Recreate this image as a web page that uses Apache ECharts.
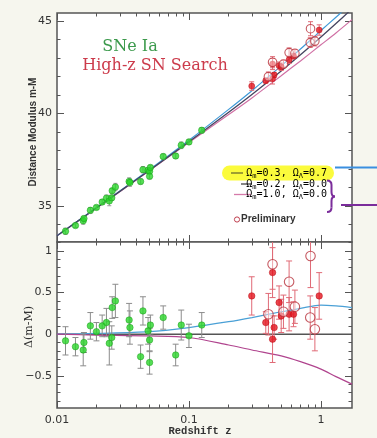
<!DOCTYPE html>
<html>
<head>
<meta charset="utf-8">
<script src="https://cdn.jsdelivr.net/npm/echarts@6/dist/echarts.min.js"></script>
<style>
  html, body { margin: 0; padding: 0; background: #f6f6ee; }
  #chart { width: 377px; height: 438px; }
</style>
</head>
<body>
<div id="chart"></div>
<script>
// model curves
const modelZ = [0.01, 0.02, 0.05, 0.1, 0.2, 0.3, 0.5, 0.7, 1.0, 1.3, 1.72];
const muOpen = [33.39, 34.90, 36.92, 38.47, 40.07, 41.03, 42.30, 43.17, 44.13, 44.86, 45.66];   // Ωm=0.2, ΩΛ=0.0
const muLambda = [33.39, 34.91, 36.95, 38.55, 40.22, 41.23, 42.57, 43.48, 44.48, 45.20, 45.98]; // Ωm=0.3, ΩΛ=0.7
const muEdS = [33.39, 34.89, 36.90, 38.43, 39.94, 40.84, 42.04, 42.84, 43.71, 44.35, 45.07];    // Ωm=1.0, ΩΛ=0.0
const resOpen = [0, 0, 0, 0, 0, 0, 0, 0, 0, 0, 0];
const resLambda = [0, 0.01, 0.03, 0.08, 0.15, 0.20, 0.27, 0.31, 0.35, 0.34, 0.32];
const resEdS = [0, -0.01, -0.02, -0.04, -0.13, -0.19, -0.26, -0.33, -0.42, -0.51, -0.60];

// low-z SNe Ia (green)
const greenZ = [0.0116, 0.0138, 0.0158, 0.016, 0.0179, 0.0199, 0.022, 0.0237, 0.0249, 0.026, 0.0262, 0.0277, 0.0352, 0.0357, 0.043, 0.0448, 0.049, 0.0503, 0.0503, 0.051, 0.0638, 0.0793, 0.0874, 0.1, 0.125];
const greenMu = [33.63, 33.94, 34.20, 34.32, 34.76, 34.92, 35.21, 35.42, 35.27, 35.44, 35.82, 36.02, 36.32, 36.26, 36.32, 36.96, 36.92, 36.87, 36.60, 37.08, 37.67, 37.70, 38.28, 38.46, 39.09];
const greenRes = [-0.08, -0.15, -0.19, -0.10, 0.10, 0.03, 0.10, 0.14, -0.11, -0.04, 0.32, 0.40, 0.17, 0.08, -0.27, 0.28, 0.04, -0.07, -0.34, 0.11, 0.20, -0.25, 0.11, -0.02, 0.11];
const greenErr = [0.17, 0.11, 0.19, 0.12, 0.16, 0.11, 0.13, 0.17, 0.26, 0.14, 0.13, 0.20, 0.20, 0.20, 0.14, 0.17, 0.16, 0.14, 0.14, 0.12, 0.14, 0.13, 0.18, 0.14, 0.15];

// High-z SN Search (red, filled)
const redZ = [0.299, 0.382, 0.43, 0.43, 0.442, 0.482, 0.50, 0.574, 0.62, 0.97];
const redMu = [41.48, 41.77, 42.67, 41.87, 42.08, 42.58, 42.52, 42.90, 43.10, 44.51];
const redRes = [0.46, 0.14, 0.74, -0.06, 0.08, 0.38, 0.22, 0.24, 0.24, 0.46];
const redErr = [0.23, 0.13, 0.30, 0.28, 0.14, 0.20, 0.20, 0.20, 0.15, 0.28];

// preliminary (red, open)
const openZ = [0.40, 0.43, 0.52, 0.574, 0.635, 0.83, 0.834, 0.90];
const openMu = [41.99, 42.77, 42.67, 43.29, 43.25, 43.83, 44.58, 43.91];
const openRes = [0.24, 0.84, 0.27, 0.63, 0.33, 0.20, 0.94, 0.06];
const openErr = [0.25, 0.30, 0.20, 0.25, 0.20, 0.26, 0.38, 0.26];

// ticks
const xMajor = [0.01, 0.1, 1];
const xMinor = [0.02, 0.03, 0.04, 0.05, 0.06, 0.07, 0.08, 0.09, 0.2, 0.3, 0.4, 0.5, 0.6, 0.7, 0.8, 0.9];
const muMajor = [35, 40, 45];
const muMinor = [34, 36, 37, 38, 39, 41, 42, 43, 44];
const resMajor = [-0.5, 0, 0.5, 1];
const resMinor = [-0.8, -0.7, -0.6, -0.4, -0.3, -0.2, -0.1, 0.1, 0.2, 0.3, 0.4, 0.6, 0.7, 0.8, 0.9, 1.1];

const zMin = 0.01, zMax = 1.72;
const muMin = 33.05, muMax = 45.43;
const resMin = -0.887, resMax = 1.108;

const chart = echarts.init(document.getElementById('chart'));

const tickLine = { color: '#555', width: 1 };
const labelFont = { color: '#333', fontSize: 11, fontFamily: 'DejaVu Sans' };

function xAx(grid, pos, ticks, len, labels) {
	return {
		type: 'log', logBase: 10, gridIndex: grid, position: pos, min: zMin, max: zMax,
		axisLine: { show: false, onZero: false },
		splitLine: { show: false },
		axisTick: { show: true, inside: true, length: len, customValues: ticks, lineStyle: tickLine },
		axisLabel: labels ? Object.assign({
			show: true, margin: 7, customValues: xMajor,
			formatter: (v) => String(+(+v).toPrecision(2))
		}, labelFont) : { show: false }
	};
}

function yAx(grid, pos, min, max, ticks, len, labels, fmt) {
	return {
		type: 'value', gridIndex: grid, position: pos, min: min, max: max,
		axisLine: { show: false, onZero: false },
		splitLine: { show: false },
		axisTick: { show: true, inside: true, length: len, customValues: ticks, lineStyle: tickLine },
		axisLabel: labels ? Object.assign({
			show: true, margin: 5, customValues: labels, formatter: fmt
		}, labelFont) : { show: false }
	};
}

const resFmt = (v) => (v < 0 ? '\u2212' + Math.abs(v) : String(v));

function errBars(color, cap) {
	return function (params, api) {
		const x = api.value(0);
		const lo = api.coord([x, api.value(1)]);
		const hi = api.coord([x, api.value(2)]);
		const st = { stroke: color, lineWidth: 1 };
		return {
			type: 'group',
			children: [
				{ type: 'line', shape: { x1: lo[0], y1: lo[1], x2: hi[0], y2: hi[1] }, style: st },
				{ type: 'line', shape: { x1: lo[0] - cap, y1: lo[1], x2: lo[0] + cap, y2: lo[1] }, style: st },
				{ type: 'line', shape: { x1: hi[0] - cap, y1: hi[1], x2: hi[0] + cap, y2: hi[1] }, style: st }
			]
		};
	};
}

const pairs = (xs, ys) => xs.map((x, i) => [x, ys[i]]);
const bars = (xs, ys, es) => xs.map((x, i) => [x, ys[i] - es[i], ys[i] + es[i]]);

function curve(xi, yi, xs, ys, color, width) {
	return {
		type: 'line', xAxisIndex: xi, yAxisIndex: yi, data: pairs(xs, ys),
		showSymbol: false, smooth: 0.3, z: 2, silent: true,
		lineStyle: { color: color, width: width }
	};
}

function errSeries(xi, yi, xs, ys, es, color, cap) {
	return {
		type: 'custom', xAxisIndex: xi, yAxisIndex: yi, clip: true, z: 3, silent: true,
		renderItem: errBars(color, cap), encode: { x: 0, y: [1, 2] },
		data: bars(xs, ys, es)
	};
}

function dots(xi, yi, xs, ys, style, size) {
	return {
		type: 'scatter', xAxisIndex: xi, yAxisIndex: yi, data: pairs(xs, ys),
		symbol: 'circle', symbolSize: size, z: 4, silent: true, itemStyle: style
	};
}

const greenStyle = { color: '#2bd62b', borderColor: '#179a17', borderWidth: 0.6 };
const redStyle = { color: '#e3151f', borderColor: '#b80d16', borderWidth: 0.6 };
const openStyle = { color: 'rgba(255,255,255,0.55)', borderColor: '#b8323c', borderWidth: 1.1 };

function legendText(a, b) {
	return '{n|\u03a9}{s|m}{n|=' + a + ', \u03a9}{s|\u039b}{n|=' + b + '}';
}
function legendRich(color) {
	return {
		n: { fontSize: 10, fontFamily: 'DejaVu Sans Mono', color: color },
		s: { fontSize: 7, fontFamily: 'DejaVu Sans Mono', color: color, padding: [6, 0, 0, 0] }
	};
}

const brace = '#7b2d9b';
function braceCurve(x1, y1, cx, cy, x2, y2) {
	return { type: 'bezierCurve', z: 101, shape: { x1: x1, y1: y1, cpx1: cx, cpy1: cy, x2: x2, y2: y2 }, style: { fill: null, stroke: brace, lineWidth: 2 } };
}
function braceLine(x1, y1, x2, y2) {
	return { type: 'line', z: 101, shape: { x1: x1, y1: y1, x2: x2, y2: y2 }, style: { stroke: brace, lineWidth: 2 } };
}

chart.setOption({
	backgroundColor: '#f6f6ee',
	animation: false,
	grid: [
		{ left: 57, right: 25, top: 13, height: 229, show: true, backgroundColor: '#fff', borderColor: '#555', borderWidth: 1.5 },
		{ left: 57, right: 25, top: 242, height: 166, show: true, backgroundColor: '#fff', borderColor: '#555', borderWidth: 1.5 }
	],
	xAxis: [
		xAx(0, 'bottom', xMajor, 7, false),
		xAx(0, 'bottom', xMinor, 3.5, false),
		xAx(0, 'top', xMajor, 7, false),
		xAx(0, 'top', xMinor, 3.5, false),
		xAx(1, 'bottom', xMajor, 7, true),
		xAx(1, 'bottom', xMinor, 3.5, false),
		xAx(1, 'top', xMajor, 7, false),
		xAx(1, 'top', xMinor, 3.5, false)
	],
	yAxis: [
		yAx(0, 'left', muMin, muMax, muMajor, 7, muMajor, (v) => String(v)),
		yAx(0, 'left', muMin, muMax, muMinor, 3.5),
		yAx(0, 'right', muMin, muMax, muMajor, 7),
		yAx(0, 'right', muMin, muMax, muMinor, 3.5),
		yAx(1, 'left', resMin, resMax, resMajor, 7, resMajor, resFmt),
		yAx(1, 'left', resMin, resMax, resMinor, 3.5),
		yAx(1, 'right', resMin, resMax, resMajor, 7),
		yAx(1, 'right', resMin, resMax, resMinor, 3.5)
	],
	series: [
		// Hubble diagram
		curve(0, 0, modelZ, muEdS, '#d070a4', 1.2),
		curve(0, 0, modelZ, muLambda, '#3f9ad8', 1.2),
		curve(0, 0, modelZ, muOpen, '#454560', 1.3),
		errSeries(0, 0, greenZ, greenMu, greenErr, '#9a9a9a', 2),
		errSeries(0, 0, redZ, redMu, redErr, '#e06a76', 2.5),
		errSeries(0, 0, openZ, openMu, openErr, '#e06a76', 2.5),
		dots(0, 0, greenZ, greenMu, greenStyle, 6.5),
		dots(0, 0, redZ, redMu, redStyle, 6),
		dots(0, 0, openZ, openMu, openStyle, 8.5),
		// residuals
		curve(4, 4, modelZ, resOpen, '#555', 1.6),
		curve(4, 4, modelZ, resLambda, '#4aa0d6', 1.2),
		curve(4, 4, modelZ, resEdS, '#b0448e', 1.2),
		errSeries(4, 4, greenZ, greenRes, greenErr, '#8c8c8c', 3),
		errSeries(4, 4, redZ, redRes, redErr, '#e06a76', 3),
		errSeries(4, 4, openZ, openRes, openErr, '#e06a76', 3),
		dots(4, 4, greenZ, greenRes, greenStyle, 6.5),
		dots(4, 4, redZ, redRes, redStyle, 6.5),
		dots(4, 4, openZ, openRes, openStyle, 9.5)
	],
	graphic: [
		{ type: 'text', z: 100, x: 130, y: 47, style: { text: 'SNe Ia', fill: '#3c9a4c', font: '16px "DejaVu Serif"', textAlign: 'center', textVerticalAlign: 'middle' } },
		{ type: 'text', z: 100, x: 155, y: 66, style: { text: 'High-z SN Search', fill: '#cc3b4b', font: '16px "DejaVu Serif"', textAlign: 'center', textVerticalAlign: 'middle' } },
		{ type: 'text', z: 100, x: 33, y: 132, rotation: Math.PI / 2, style: { text: 'Distance Modulus m-M', fill: '#333', font: 'bold 10px "Liberation Sans"', textAlign: 'center', textVerticalAlign: 'middle' } },
		{ type: 'text', z: 100, x: 29, y: 327, rotation: Math.PI / 2, style: { text: '\u0394(m-M)', fill: '#333', font: '11px "DejaVu Serif"', textAlign: 'center', textVerticalAlign: 'middle' } },
		{ type: 'text', z: 100, x: 200, y: 431, style: { text: 'Redshift z', fill: '#333', font: 'bold 10.5px "Liberation Mono"', textAlign: 'center', textVerticalAlign: 'middle' } },
		// legend
		{ type: 'rect', z: 100, shape: { x: 222, y: 165.5, width: 112, height: 15, r: 7.5 }, style: { fill: '#fbfb3c' } },
		{ type: 'line', z: 101, shape: { x1: 231, y1: 173, x2: 243, y2: 173 }, style: { stroke: '#6d6d2c', lineWidth: 1.3 } },
		{ type: 'text', z: 101, x: 327, y: 173, style: { text: legendText('0.3', '0.7'), rich: legendRich('#6a5d82'), textAlign: 'right', textVerticalAlign: 'middle' } },
		{ type: 'line', z: 101, shape: { x1: 241, y1: 184, x2: 252, y2: 184 }, style: { stroke: '#444', lineWidth: 1.3 } },
		{ type: 'text', z: 101, x: 327, y: 184, style: { text: legendText('0.2', '0.0'), rich: legendRich('#333'), textAlign: 'right', textVerticalAlign: 'middle' } },
		{ type: 'line', z: 101, shape: { x1: 234, y1: 194.5, x2: 251, y2: 194.5 }, style: { stroke: '#d57aaa', lineWidth: 1.3 } },
		{ type: 'text', z: 101, x: 327, y: 194.5, style: { text: legendText('1.0', '0.0'), rich: legendRich('#c0649a'), textAlign: 'right', textVerticalAlign: 'middle' } },
		{ type: 'circle', z: 101, shape: { cx: 237, cy: 219.5, r: 2.6 }, style: { fill: null, stroke: '#c04050', lineWidth: 1 } },
		{ type: 'text', z: 101, x: 241, y: 219.5, style: { text: 'Preliminary', fill: '#333', font: 'bold 10px "Liberation Sans"', textAlign: 'left', textVerticalAlign: 'middle' } },
		braceCurve(327, 180.5, 331.5, 180.5, 331.5, 185),
		braceLine(331.5, 185, 331.5, 192),
		braceCurve(331.5, 192, 331.5, 196.5, 335, 196.5),
		braceCurve(335, 196.5, 331.5, 196.5, 331.5, 201),
		braceLine(331.5, 201, 331.5, 207.5),
		braceCurve(331.5, 207.5, 331.5, 212, 327, 212),
		{ type: 'line', z: 101, shape: { x1: 335, y1: 167.5, x2: 377, y2: 167.5 }, style: { stroke: '#3a8fe0', lineWidth: 2 } },
		{ type: 'line', z: 101, shape: { x1: 341, y1: 205, x2: 377, y2: 205 }, style: { stroke: brace, lineWidth: 2 } }
	]
});
</script>
</body>
</html>
